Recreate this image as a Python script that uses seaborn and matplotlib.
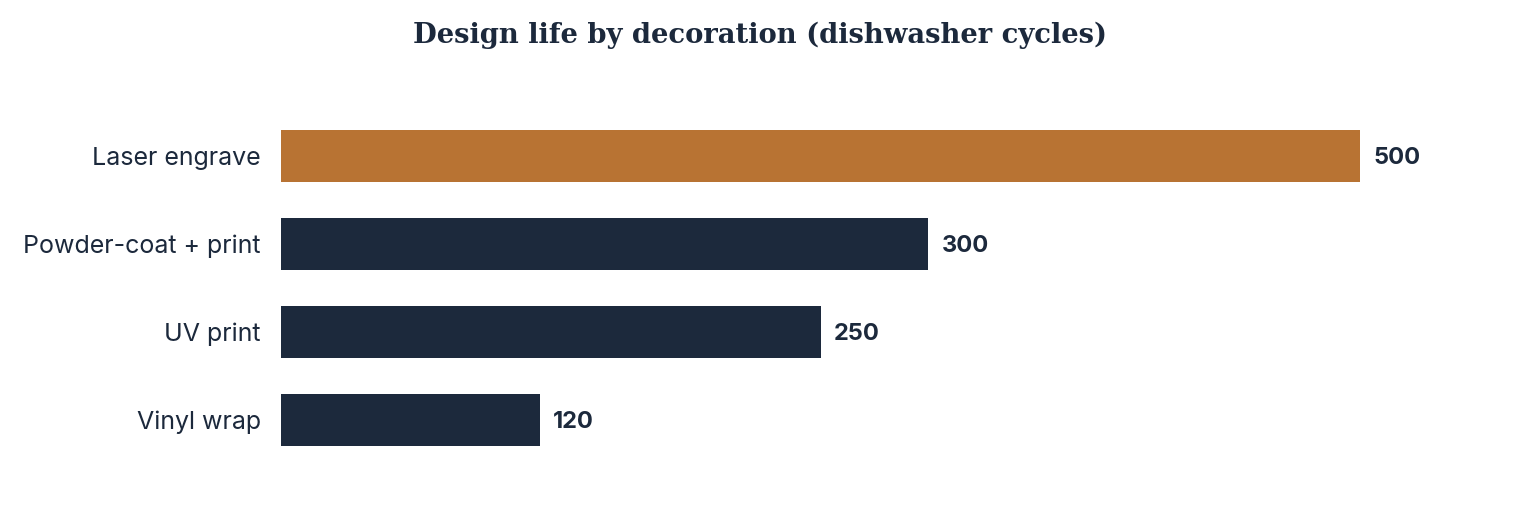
import matplotlib
matplotlib.use("Agg")
import matplotlib.pyplot as plt
import seaborn as sns
import pandas as pd

categories = ["Laser engrave", "Powder-coat + print", "UV print", "Vinyl wrap"]
values = [500, 300, 250, 120]
highlight = ["Laser engrave"]

ORANGE = "#B87333"
NAVY = "#1C293C"
TEXT = "#1C293C"

sns.set_theme(style="white")
plt.rcParams['font.family'] = ['Inter', 'DejaVu Sans']

df = pd.DataFrame({"category": categories, "value": values})
palette = {c: (ORANGE if c in highlight else NAVY) for c in categories}

fig = plt.figure(figsize=(15.2, 5.32), dpi=100)
left = 281 / 1520
right = 1490 / 1520
ax = fig.add_axes([left, (532 - 464) / 532, right - left, (464 - 112) / 532])

sns.barplot(data=df, y="category", x="value", hue="category", palette=palette,
            order=categories, orient="h", width=52 / 88, legend=False, ax=ax,
            saturation=1, linewidth=0)

ax.set_xlim(0, 500 * (1490 - 281) / 1079)
ax.set_ylim(3.5, -0.5)
for s in ax.spines.values():
    s.set_visible(False)
ax.set_xticks([])
ax.set_xlabel("")
ax.set_ylabel("")
ax.tick_params(axis="y", length=0, pad=14.5, labelsize=18, labelcolor=TEXT)
for lab in ax.get_yticklabels():
    lab.set_verticalalignment("center_baseline")

for i, v in enumerate(values):
    ax.annotate(f"{v}", xy=(v, i), xytext=(9.5, 0), textcoords="offset points",
                ha="left", va="center_baseline", fontsize=17, fontweight="bold", color=TEXT)

fig.text(0.5, 1 - 35 / 532, "Design life by decoration (dishwasher cycles)",
         ha="center", va="center", fontsize=19.7, fontweight="bold", color=TEXT,
         family=["DejaVu Serif"])

fig.savefig("out.png", dpi=100, facecolor="white")
